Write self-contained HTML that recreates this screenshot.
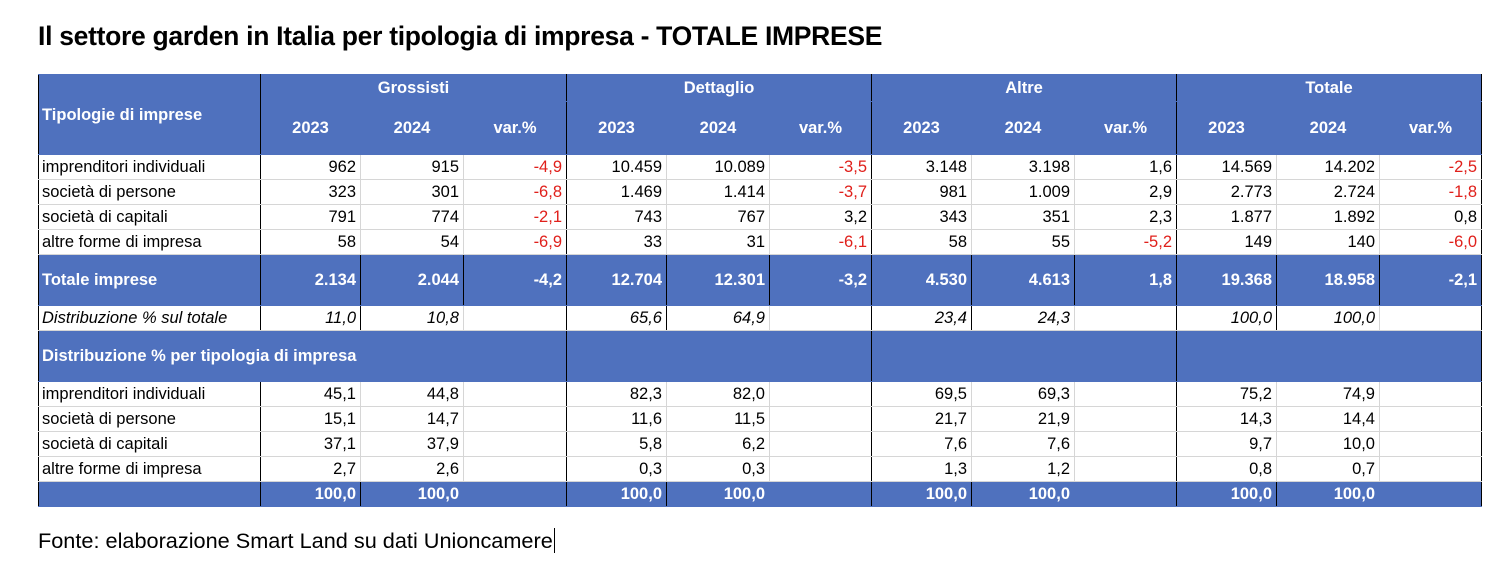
<!DOCTYPE html>
<html><head><meta charset="utf-8"><style>
body{margin:0;width:1512px;height:570px;background:#fff;font-family:"Liberation Sans",sans-serif;position:relative;overflow:hidden}
h1{position:absolute;left:38px;top:21px;margin:0;font-size:26.5px;font-weight:bold;color:#000;letter-spacing:-0.3px}
table{position:absolute;left:38px;top:74px;border-collapse:collapse;table-layout:fixed;width:1443px;font-size:16.5px}
td{padding:0 4px;white-space:nowrap;overflow:hidden;text-align:right;border:1px solid #d6d6d6;height:24px;line-height:24px}
td.l{text-align:left;padding-left:3px;border-left:1.5px solid #000;border-right:1.5px solid #000}
td.g{border-right:1.5px solid #000}
tr.b td{background:#4f71be;color:#fff;font-weight:bold;border-color:#4f71be}
tr.b td.l,tr.b td.g{border-right:1.5px solid #000}
tr.b td.l{border-left:1.5px solid #000}
.r{color:#e0201b}
tr.h td{text-align:center}
tr.b.h td.l{text-align:left}
tr.i td{font-style:italic}
#f{position:absolute;left:38px;top:528px;font-size:21.7px;color:#000}
</style></head><body>
<h1>Il settore garden in Italia per tipologia di impresa - TOTALE IMPRESE</h1>
<table>
<colgroup><col style="width:222px"><col style="width:100px"><col style="width:103px"><col style="width:103px"><col style="width:100px"><col style="width:103px"><col style="width:102px"><col style="width:100px"><col style="width:103px"><col style="width:102px"><col style="width:100px"><col style="width:103px"><col style="width:102px"></colgroup>
<tr class="b h" style="border-top:1.5px solid #000"><td class="l" rowspan="2" style="vertical-align:top;padding-top:28px;line-height:24px">Tipologie di imprese</td><td colspan="3" class="g" style="height:26px">Grossisti</td><td colspan="3" class="g">Dettaglio</td><td colspan="3" class="g">Altre</td><td colspan="3" class="g">Totale</td></tr>
<tr class="b h"><td style="height:52px">2023</td><td>2024</td><td class="g">var.%</td><td>2023</td><td>2024</td><td class="g">var.%</td><td>2023</td><td>2024</td><td class="g">var.%</td><td>2023</td><td>2024</td><td class="g">var.%</td></tr>
<tr><td class="l">imprenditori individuali</td><td>962</td><td>915</td><td class="g r">-4,9</td><td>10.459</td><td>10.089</td><td class="g r">-3,5</td><td>3.148</td><td>3.198</td><td class="g">1,6</td><td>14.569</td><td>14.202</td><td class="g r">-2,5</td></tr>
<tr><td class="l">società di persone</td><td>323</td><td>301</td><td class="g r">-6,8</td><td>1.469</td><td>1.414</td><td class="g r">-3,7</td><td>981</td><td>1.009</td><td class="g">2,9</td><td>2.773</td><td>2.724</td><td class="g r">-1,8</td></tr>
<tr><td class="l">società di capitali</td><td>791</td><td>774</td><td class="g r">-2,1</td><td>743</td><td>767</td><td class="g">3,2</td><td>343</td><td>351</td><td class="g">2,3</td><td>1.877</td><td>1.892</td><td class="g">0,8</td></tr>
<tr><td class="l">altre forme di impresa</td><td>58</td><td>54</td><td class="g r">-6,9</td><td>33</td><td>31</td><td class="g r">-6,1</td><td>58</td><td>55</td><td class="g r">-5,2</td><td>149</td><td>140</td><td class="g r">-6,0</td></tr>
<tr class="b"><td class="l" style="height:50px">Totale imprese</td><td style="border-right:1.5px solid #000">2.134</td><td style="border-right:1.5px solid #000">2.044</td><td class="g">-4,2</td><td style="border-right:1.5px solid #000">12.704</td><td style="border-right:1.5px solid #000">12.301</td><td class="g">-3,2</td><td style="border-right:1.5px solid #000">4.530</td><td style="border-right:1.5px solid #000">4.613</td><td class="g">1,8</td><td style="border-right:1.5px solid #000">19.368</td><td style="border-right:1.5px solid #000">18.958</td><td class="g">-2,1</td></tr>
<tr class="i"><td class="l">Distribuzione % sul totale</td><td style="border-right:1.5px solid #000">11,0</td><td>10,8</td><td class="g"></td><td style="border-right:1.5px solid #000">65,6</td><td>64,9</td><td class="g"></td><td style="border-right:1.5px solid #000">23,4</td><td>24,3</td><td class="g"></td><td style="border-right:1.5px solid #000">100,0</td><td>100,0</td><td class="g"></td></tr>
<tr class="b"><td colspan="4" class="g" style="text-align:left;padding-left:3px;border-left:1.5px solid #000;height:50px">Distribuzione % per tipologia di impresa</td><td colspan="3" class="g"></td><td colspan="3" class="g"></td><td colspan="3" class="g"></td></tr>
<tr><td class="l">imprenditori individuali</td><td>45,1</td><td>44,8</td><td class="g"></td><td>82,3</td><td>82,0</td><td class="g"></td><td>69,5</td><td>69,3</td><td class="g"></td><td>75,2</td><td>74,9</td><td class="g"></td></tr>
<tr><td class="l">società di persone</td><td>15,1</td><td>14,7</td><td class="g"></td><td>11,6</td><td>11,5</td><td class="g"></td><td>21,7</td><td>21,9</td><td class="g"></td><td>14,3</td><td>14,4</td><td class="g"></td></tr>
<tr><td class="l">società di capitali</td><td>37,1</td><td>37,9</td><td class="g"></td><td>5,8</td><td>6,2</td><td class="g"></td><td>7,6</td><td>7,6</td><td class="g"></td><td>9,7</td><td>10,0</td><td class="g"></td></tr>
<tr><td class="l">altre forme di impresa</td><td>2,7</td><td>2,6</td><td class="g"></td><td>0,3</td><td>0,3</td><td class="g"></td><td>1,3</td><td>1,2</td><td class="g"></td><td>0,8</td><td>0,7</td><td class="g"></td></tr>
<tr class="b"><td class="l" style="height:23px"></td><td style="border-right:1.5px solid #000">100,0</td><td>100,0</td><td class="g"></td><td style="border-right:1.5px solid #000">100,0</td><td>100,0</td><td class="g"></td><td style="border-right:1.5px solid #000">100,0</td><td>100,0</td><td class="g"></td><td style="border-right:1.5px solid #000">100,0</td><td>100,0</td><td class="g"></td></tr>
</table>
<div id="f">Fonte: elaborazione Smart Land su dati Unioncamere<span style="border-right:1.5px solid #000;margin-left:1px"></span></div>
</body></html>
